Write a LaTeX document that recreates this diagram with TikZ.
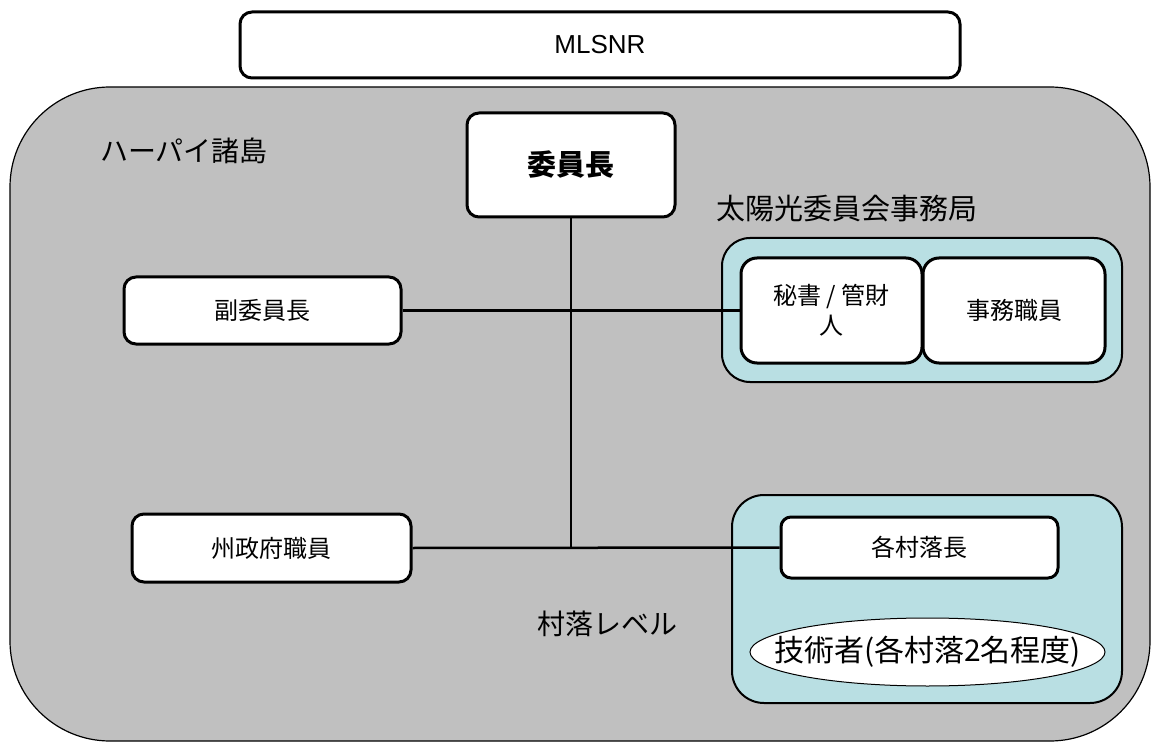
\documentclass[tikz,border=0pt]{standalone}
\usepackage{fontspec}
\setmainfont{Noto Sans CJK JP}
\newfontfamily\latinfont{Liberation Sans}
\definecolor{regiongray}{RGB}{192,192,192}
\definecolor{groupblue}{RGB}{185,223,227}
\usetikzlibrary{shapes.geometric}
\begin{document}
\begin{tikzpicture}[x=1pt,y=-1pt,
  whitebox/.style={draw=black, line width=3pt, fill=white, rounded corners=12pt, inner sep=0pt, align=center, font=\fontsize{24}{30}\selectfont},
  groupbox/.style={draw=black, line width=2pt, fill=groupblue, rounded corners=28pt, inner sep=0pt},
  conn/.style={draw=black, line width=2.5pt},
  lbl/.style={inner sep=0pt, font=\fontsize{28}{32}\selectfont, anchor=base west}]
\useasboundingbox (0,0) rectangle (1154,743);
% MLSNR
\node[whitebox, minimum width=720pt, minimum height=66pt, font=\latinfont\fontsize{26}{30}\selectfont] (mlsnr) at (600,45) {MLSNR};
% island region
\node[draw=black, line width=1.2pt, fill=regiongray, rounded corners=100pt, minimum width=1140pt, minimum height=654pt, inner sep=0pt] (region) at (580,414) {};
\node[lbl] (happai) at (100,162) {ハーパイ諸島};
\node[lbl, font=\fontsize{29}{32}\selectfont] (secrlabel) at (716,220) {太陽光委員会事務局};
\node[lbl] (villlabel) at (537,634) {村落レベル};
% chair
\node[whitebox, minimum width=208pt, minimum height=104pt, font=\bfseries\fontsize{29}{32}\selectfont] (chair) at (571,165) {委員長};
% vice
\node[whitebox, minimum width=277pt, minimum height=67pt] (vice) at (262.5,310.5) {副委員長};
% state
\node[whitebox, minimum width=279pt, minimum height=68pt] (state) at (271.5,548) {州政府職員};
% secretariat group
\node[groupbox, minimum width=400pt, minimum height=144pt] (secr) at (922,310) {};
\node[whitebox, rounded corners=16pt, minimum width=181pt, minimum height=105pt] (sec) at (831.5,310.5) {秘書 / 管財\\人};
\node[whitebox, rounded corners=16pt, minimum width=182pt, minimum height=105pt] (clerk) at (1014,310.5) {事務職員};
% village group
\node[groupbox, rounded corners=32pt, minimum width=390pt, minimum height=208pt] (vill) at (927,599) {};
\node[whitebox, rounded corners=10pt, minimum width=277pt, minimum height=61pt] (chief) at (919.5,547.5) {各村落長};
\node[draw=black, line width=1pt, fill=white, ellipse, minimum width=355pt, minimum height=68pt, inner sep=0pt,
  label={[inner sep=0pt, font=\fontsize{30}{32}\selectfont]center:技術者(各村落2名程度)}] (tech) at (927.5,652) {};
% connectors
\coordinate (junction) at (chair.south |- state.east);
\draw[conn] (chair.south) -- (junction);
\draw[conn] (vice.east) -- (sec.west);
\draw[conn] (state.east) -- (chief.west);
\end{tikzpicture}
\end{document}
